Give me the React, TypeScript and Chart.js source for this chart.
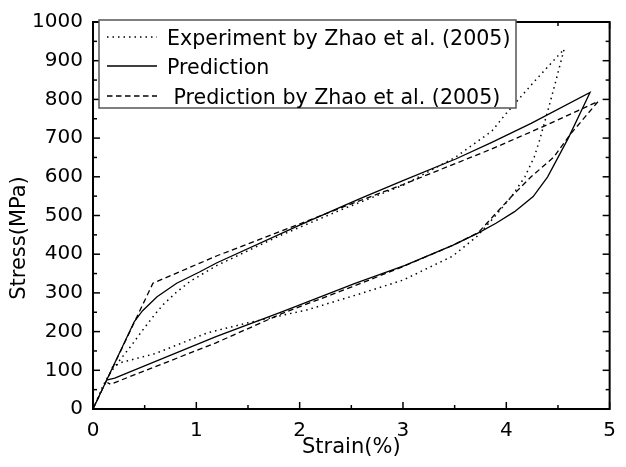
import React, { useEffect, useRef } from "react";
import { Chart, registerables } from "chart.js";

Chart.register(...registerables);

// Experiment by Zhao et al. (2005) — dotted
const expStrain = [0, 0.1, 0.17, 0.27, 0.36, 0.47, 0.6, 0.68, 0.8, 0.94, 1.2, 1.8, 2.44, 3.0, 3.51, 3.86, 3.99, 4.27, 4.56,
  4.46, 4.4, 4.32, 4.27, 4.18, 4.05, 3.89, 3.72, 3.48, 3.0, 2.54, 2.07, 1.49, 1.11, 0.6, 0.27, 0.19, 0.17];
const expStress = [0, 62, 95, 130, 160, 200, 245, 270, 300, 330, 371, 447, 519, 578, 651, 718, 761, 846, 930,
  828, 769, 693, 651, 600, 549, 498, 447, 395, 333, 294, 256, 222, 197, 143, 120, 108, 100];

// Prediction — solid
const predStrain = [0, 0.4, 0.48, 0.62, 0.81, 1.03, 1.2, 2.0, 2.44, 2.63, 3.0, 3.51, 3.86, 4.24, 4.81,
  4.6, 4.4, 4.26, 4.08, 3.9, 3.73, 3.48, 3.02, 2.53, 1.84, 1.19, 0.21, 0.14];
const predStress = [0, 226, 254, 290, 325, 354, 378, 475, 527, 549, 590, 646, 689, 738, 818,
  700, 600, 549, 510, 480, 455, 423, 371, 324, 252, 187, 80, 75];

// Prediction by Zhao et al. (2005) — dashed
const zhaoStrain = [0, 0.58, 1.2, 2.0, 2.44, 3.0, 3.86, 4.4, 4.89,
  4.62, 4.46, 4.24, 4.05, 3.88, 3.73, 3.5, 3.0, 2.5, 1.84, 1.19, 0.17, 0.14];
const zhaoStress = [0, 325, 396, 478, 524, 580, 672, 735, 795,
  710, 651, 600, 549, 500, 456, 425, 368, 315, 248, 171, 64, 68];

const xTickValues = [0, 1, 2, 3, 4, 5];
const yTickValues = [0, 100, 200, 300, 400, 500, 600, 700, 800, 900, 1000];
const seriesLabels = ["Experiment by Zhao et al. (2005)", "Prediction", " Prediction by Zhao et al. (2005)"];
const xTitle = "Strain(%)";
const yTitle = "Stress(MPa)";

const FONT = '"DejaVu Sans", "Liberation Sans", sans-serif';

const toPoints = (xs: number[], ys: number[]) => xs.map((x, i) => ({ x, y: ys[i] }));

const dashes = [[1.5, 4], [], [5.5, 3.5]];
const widths = [1.5, 1.3, 1.3];

const decorPlugin = {
  id: "decor",
  afterDraw(chart: any) {
    const { ctx, chartArea: a, scales } = chart;
    const xs = scales.x;
    const ys = scales.y;
    ctx.save();
    ctx.strokeStyle = "#000";
    ctx.fillStyle = "#000";
    const seg = (x1: number, y1: number, x2: number, y2: number) => {
      ctx.beginPath();
      ctx.moveTo(x1, y1);
      ctx.lineTo(x2, y2);
      ctx.stroke();
    };
    // ticks (inward, all four sides)
    ctx.lineWidth = 1.5;
    ctx.setLineDash([]);
    const xMajor = xTickValues[1] - xTickValues[0];
    for (let i = 0; i <= (xTickValues.length - 1) * 2; i++) {
      const v = xTickValues[0] + (i * xMajor) / 2;
      const px = xs.getPixelForValue(v);
      const len = i % 2 === 0 ? 7 : 4;
      seg(px, a.bottom, px, a.bottom - len);
      seg(px, a.top, px, a.top + len);
    }
    const yMajor = yTickValues[1] - yTickValues[0];
    for (let i = 0; i <= (yTickValues.length - 1) * 2; i++) {
      const v = yTickValues[0] + (i * yMajor) / 2;
      const py = ys.getPixelForValue(v);
      const len = i % 2 === 0 ? 7 : 4;
      seg(a.left, py, a.left + len, py);
      seg(a.right, py, a.right - len, py);
    }
    // frame
    ctx.lineWidth = 2;
    ctx.strokeRect(a.left, a.top, a.right - a.left, a.bottom - a.top);

    // axis titles
    ctx.font = `21px ${FONT}`;
    ctx.textAlign = "center";
    ctx.textBaseline = "middle";
    ctx.fillText(xTitle, (a.left + a.right) / 2, 448);
    ctx.save();
    ctx.translate(20, 238);
    ctx.rotate(-Math.PI / 2);
    ctx.fillText(yTitle, 0, 0);
    ctx.restore();

    // legend
    const lx = a.left + 6;
    const ly = 20;
    const lw = 417;
    const lh = 88;
    ctx.fillStyle = "#fff";
    ctx.fillRect(lx, ly, lw, lh);
    ctx.strokeStyle = "#555";
    ctx.lineWidth = 1.5;
    ctx.strokeRect(lx, ly, lw, lh);
    const rows = [37, 66, 96];
    ctx.font = `20.6px ${FONT}`;
    ctx.textAlign = "left";
    ctx.textBaseline = "alphabetic";
    seriesLabels.forEach((label, i) => {
      ctx.strokeStyle = "#000";
      ctx.lineWidth = widths[i];
      ctx.setLineDash(dashes[i]);
      seg(lx + 8, rows[i], lx + 58, rows[i]);
      ctx.setLineDash([]);
      ctx.fillStyle = "#000";
      ctx.fillText(label, lx + 68, rows[i] + 7.5);
    });
    ctx.restore();
  },
};

export default function App() {
  const ref = useRef<HTMLCanvasElement | null>(null);
  useEffect(() => {
    if (!ref.current) return;
    const seriesX = [expStrain, predStrain, zhaoStrain];
    const seriesY = [expStress, predStress, zhaoStress];
    const chart = new Chart(ref.current, {
      type: "scatter",
      data: {
        datasets: seriesLabels.map((label, i) => ({
          label,
          data: toPoints(seriesX[i], seriesY[i]),
          showLine: true,
          borderColor: "#000",
          backgroundColor: "#000",
          borderWidth: widths[i],
          borderDash: dashes[i],
          pointRadius: 0,
          tension: 0,
          fill: false,
        })),
      },
      options: {
        responsive: false,
        animation: false,
        layout: { padding: { top: 16, right: 6, left: 0, bottom: 0 } },
        plugins: { legend: { display: false }, tooltip: { enabled: false } },
        scales: {
          x: {
            type: "linear",
            min: xTickValues[0],
            max: xTickValues[xTickValues.length - 1],
            grid: { display: false, drawTicks: false },
            border: { display: false },
            ticks: {
              stepSize: 1,
              padding: 10,
              color: "#000",
              font: { family: FONT, size: 20 },
              maxRotation: 0,
              callback: (v: any) => String(v),
            },
            afterFit: (s: any) => {
              s.height = 58;
            },
          },
          y: {
            type: "linear",
            min: yTickValues[0],
            max: yTickValues[yTickValues.length - 1],
            grid: { display: false, drawTicks: false },
            border: { display: false },
            ticks: {
              stepSize: 100,
              padding: 10,
              color: "#000",
              font: { family: FONT, size: 20 },
              callback: (v: any) => String(v),
            },
            afterFit: (s: any) => {
              s.width = 93;
            },
          },
        },
      },
      plugins: [decorPlugin],
    });
    return () => chart.destroy();
  }, []);
  return (
    <div style={{ position: "fixed", left: 0, top: 0, width: 626, height: 467, background: "#fff" }}>
      <canvas ref={ref} width={626} height={467} style={{ width: 626, height: 467 }} />
    </div>
  );
}
